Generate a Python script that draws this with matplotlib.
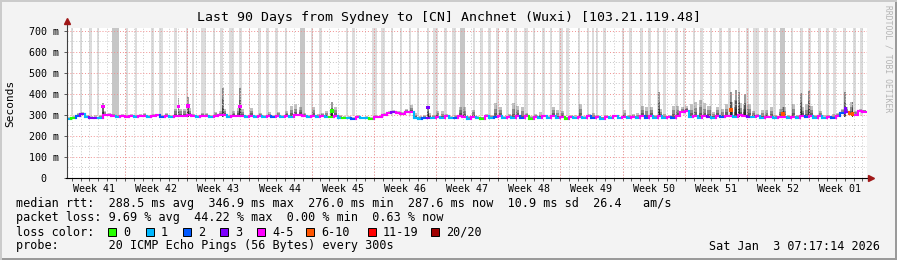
# SmokePing style latency chart, last 90 days Sydney -> Anchnet (Wuxi)
import numpy as np
import matplotlib
matplotlib.use("Agg")
import matplotlib.pyplot as plt
from matplotlib.collections import LineCollection
from matplotlib.patches import Rectangle

# median rtt (ms), one value per half day (180 slots over 90 days)
median_ms = [
    281, 284, 297, 305, 288, 285, 284, 287, 300, 298, 297, 291, 297, 289,
    297, 290, 297, 297, 290, 297, 298, 291, 297, 289, 297, 297, 297, 298,
    296, 289, 297, 297, 289, 296, 298, 300, 288, 297, 297, 296, 290, 297,
    290, 296, 289, 297, 290, 296, 288, 297, 291, 298, 300, 296, 289, 297,
    292, 297, 290, 292, 295, 285, 284, 287, 283, 290, 284, 286, 283, 289,
    290, 298, 308, 312, 310, 303, 315, 316, 286, 283, 285, 286, 286, 290,
    286, 293, 284, 286, 294, 290, 283, 292, 285, 283, 293, 285, 288, 294,
    284, 292, 284, 293, 285, 294, 283, 290, 286, 293, 284, 294, 285, 288,
    283, 292, 284, 291, 285, 293, 284, 292, 283, 292, 285, 293, 284, 290,
    285, 292, 284, 293, 286, 295, 284, 293, 286, 292, 287, 295, 312, 319,
    290, 295, 286, 293, 290, 285, 294, 290, 296, 293, 290, 300, 297, 292,
    288, 293, 285, 292, 290, 286, 291, 292, 286, 292, 285, 293, 288, 296,
    285, 293, 284, 290, 286, 295, 310, 312, 303, 300, 318, 316,
]
# loss class index per slot (0:"0" 1:"1" 2:"2" 3:"3" 4:"4-5" 5:"6-10" 6:"11-19" 7:"20/20")
loss_class = [
    1, 0, 2, 3, 1, 3, 3, 1, 4, 4, 4, 1, 4, 4,
    4, 1, 4, 4, 1, 4, 4, 2, 4, 1, 4, 4, 4, 4,
    4, 1, 4, 4, 1, 4, 4, 4, 1, 4, 4, 4, 1, 4,
    1, 4, 1, 4, 2, 4, 1, 4, 1, 4, 4, 4, 1, 4,
    1, 4, 1, 0, 4, 1, 0, 1, 2, 4, 1, 1, 0, 4,
    4, 4, 4, 3, 4, 4, 4, 4, 1, 1, 2, 3, 1, 4,
    1, 4, 1, 2, 4, 4, 1, 4, 1, 0, 4, 1, 2, 4,
    1, 4, 1, 4, 2, 4, 0, 4, 1, 4, 1, 4, 1, 4,
    0, 4, 1, 4, 1, 4, 2, 4, 1, 4, 1, 4, 1, 4,
    1, 4, 1, 4, 2, 4, 1, 4, 1, 4, 2, 4, 4, 4,
    1, 4, 1, 4, 3, 1, 4, 2, 4, 4, 1, 4, 4, 3,
    1, 4, 1, 4, 4, 1, 4, 4, 1, 4, 1, 4, 2, 4,
    1, 4, 1, 4, 2, 4, 2, 3, 5, 4, 4, 4,
]
# top of the smoke (slowest pings, ms) per slot
smoke_top_ms = [
    290, 295, 310, 315, 300, 295, 298, 300, 320, 310, 305, 300, 305, 300,
    305, 298, 305, 310, 300, 305, 305, 300, 310, 300, 330, 330, 330, 335,
    305, 298, 310, 310, 300, 315, 320, 330, 300, 320, 335, 330, 300, 333,
    300, 310, 300, 312, 300, 315, 300, 320, 345, 350, 340, 310, 300, 340,
    305, 310, 320, 330, 340, 300, 295, 295, 290, 300, 292, 295, 290, 298,
    300, 310, 318, 322, 320, 315, 330, 347, 310, 295, 300, 310, 300, 320,
    320, 305, 295, 300, 340, 338, 295, 325, 295, 292, 305, 300, 358, 340,
    295, 305, 355, 345, 340, 310, 295, 305, 313, 300, 295, 340, 325, 320,
    292, 300, 298, 350, 295, 305, 310, 300, 292, 298, 295, 300, 292, 325,
    300, 305, 310, 345, 340, 340, 300, 330, 305, 300, 345, 345, 340, 345,
    350, 360, 370, 355, 345, 315, 340, 330, 350, 360, 370, 355, 350, 350,
    320, 305, 325, 322, 340, 300, 330, 340, 300, 350, 300, 340, 350, 345,
    300, 320, 298, 300, 305, 310, 330, 340, 360, 320, 330, 325,
]

# narrow spikes: (day, slowest ping ms)
spike_day = [4.05, 12.55, 13.65, 17.55, 19.5, 29.8, 40.6, 66.6, 74.7, 75.3, 75.6,
             76.3, 80.6, 82.6, 83.5, 87.6, 88.4]
spike_top_ms = [358, 380, 387, 430, 427, 362, 335, 411, 411, 420, 411,
                400, 340, 405, 414, 411, 360]
# median values that jump out of the band: (day, ms, loss class)
dot_day = [4.05, 12.55, 13.65, 19.5, 29.8, 40.6, 74.7, 80.6, 87.6, 88.4]
dot_ms = [340, 340, 344, 340, 319, 335, 324, 305, 328, 305]
dot_class = [4, 4, 4, 4, 0, 3, 5, 5, 3, 5]

# full height smoke stripes (pings beyond the graph top), start/end in days
bar_start = [0.45, 1.41, 2.48, 3.32, 5.06, 6.64, 7.65, 9.45, 10.35, 12.04, 13.39, 14.07,
             15.08, 16.43, 17.22, 18.23, 19.36, 20.48, 21.49, 22.39, 23.41, 24.53, 26.22,
             27.46, 28.36, 31.37, 32.05, 34.32, 35.34, 36.46, 37.47, 38.49, 39.39, 40.51,
             41.19, 42.43, 43.33, 44.23, 45.69, 46.48, 47.38, 48.28, 49.40, 50.30, 51.43,
             52.44, 53.46, 54.36, 55.37, 56.16, 57.51, 58.52, 59.08, 59.53, 60.32, 62.46,
             63.25, 64.48, 65.38, 66.40, 67.07, 68.42, 69.32, 70.45, 71.24, 72.36, 73.37,
             74.39, 75.51, 76.41, 77.20, 78.44, 79.45, 80.24, 81.48, 82.49, 83.39, 84.52,
             85.42, 86.20, 87.33, 88.46, 89.24]
bar_end = [0.73, 1.69, 2.76, 3.60, 5.85, 6.92, 7.88, 9.79, 10.80, 12.38, 13.62, 14.29,
           15.64, 16.66, 17.56, 18.79, 19.69, 20.65, 21.78, 22.73, 23.74, 24.76, 26.79,
           27.68, 28.70, 31.60, 32.39, 34.89, 35.79, 36.69, 37.70, 38.71, 39.61, 40.74,
           41.75, 42.76, 43.78, 44.79, 45.91, 46.82, 47.72, 48.62, 49.74, 50.64, 51.88,
           52.67, 53.79, 54.58, 55.82, 56.49, 57.74, 58.75, 59.31, 59.76, 60.66, 62.69,
           63.59, 64.82, 65.72, 66.62, 67.41, 68.76, 69.55, 70.67, 71.57, 72.59, 73.71,
           74.72, 75.74, 76.75, 77.87, 78.89, 79.79, 80.80, 81.70, 82.83, 83.73, 84.85,
           85.76, 86.54, 87.67, 88.79, 89.58]
dark_bar_start = [5.06, 26.22, 44.23, 80.24]
dark_bar_end = [5.85, 26.79, 44.79, 80.80]

week_labels = ["Week 41", "Week 42", "Week 43", "Week 44", "Week 45", "Week 46", "Week 47",
               "Week 48", "Week 49", "Week 50", "Week 51", "Week 52", "Week 01"]
ytick_values = [0, 100, 200, 300, 400, 500, 600, 700]
ytick_labels = ["0  ", "100 m", "200 m", "300 m", "400 m", "500 m", "600 m", "700 m"]
loss_labels = ["0", "1", "2", "3", "4-5", "6-10", "11-19", "20/20"]
loss_colors = ["#26ff00", "#00b8ff", "#0059ff", "#7e00ff", "#ff00ff", "#ff5500", "#ff0000", "#a00000"]

title = "Last 90 Days from Sydney to [CN] Anchnet (Wuxi) [103.21.119.48]"
rtt_line = "median rtt:  288.5 ms avg  346.9 ms max  276.0 ms min  287.6 ms now  10.9 ms sd  26.4   am/s"
loss_line = "packet loss: 9.69 % avg  44.22 % max  0.00 % min  0.63 % now"
probe_line = "probe:       20 ICMP Echo Pings (56 Bytes) every 300s"
stamp = "Sat Jan  3 07:17:14 2026"

W, H = 897, 260
plt.rcParams["font.family"] = "DejaVu Sans Mono"

fig = plt.figure(figsize=(W / 100, H / 100), dpi=100, facecolor="#f3f3f3")
ax = fig.add_axes([67 / W, 82 / H, 800 / W, 150 / H])
ax.set_facecolor("white")
ymax = 714
ax.set_xlim(0, 90.03)
ax.set_ylim(0, ymax)

# stripes
ax.bar(bar_start, ymax - 295, width=np.subtract(bar_end, bar_start), bottom=295,
       align="edge", color="#dcdcdc", lw=0, zorder=1)
ax.bar(dark_bar_start, ymax - 295, width=np.subtract(dark_bar_end, dark_bar_start),
       bottom=295, align="edge", color="#c6c6c6", lw=0, zorder=1)

# smoke, drawn as narrow layered columns
days = np.arange(len(median_ms)) * 0.5
med = np.asarray(median_ms, float)
top = np.asarray(smoke_top_ms, float)
for frac, a in [(1.0, 0.3), (0.6, 0.35), (0.3, 0.45)]:
    ax.bar(days + 0.25, frac * (top - med), width=0.34, bottom=med,
           color="#303030", alpha=a, lw=0, zorder=2)
sp_top = np.asarray(spike_top_ms, float)
for frac, a in [(1.0, 0.45), (0.6, 0.4), (0.3, 0.5)]:
    ax.bar(spike_day, frac * (sp_top - 292), width=0.22, bottom=292,
           color="#202020", alpha=a, lw=0, zorder=2)

# grid
week0 = 6.52
for d in np.arange(week0 - 6, 90, 1.0):
    ax.axvline(d, color="#c8c8c8", lw=0.7, ls=(0, (1, 2)), zorder=3)
for v in range(50, 714, 100):
    ax.axhline(v, color="#c8c8c8", lw=0.7, ls=(0, (1, 2)), zorder=3)
for d in np.arange(week0, 90, 7.0):
    ax.axvline(d, color="#f09090", lw=0.7, ls=(0, (1, 2)), zorder=3)
for v in ytick_values[1:]:
    ax.axhline(v, color="#f09090", lw=0.7, ls=(0, (1, 2)), zorder=3)

# median line coloured by loss
segs, cols = [], []
for j in range(len(days)):
    c = loss_colors[loss_class[j]]
    if j > 0:
        segs.append([(days[j], median_ms[j - 1]), (days[j], median_ms[j])])
        cols.append(c)
    segs.append([(days[j], median_ms[j]), (days[j] + 0.5, median_ms[j])])
    cols.append(c)
ax.add_collection(LineCollection(segs, colors=cols, linewidths=1.5,
                                 capstyle="projecting", zorder=4))
ax.scatter(dot_day, dot_ms, s=7, marker="s", c=[loss_colors[k] for k in dot_class],
           lw=0, zorder=5)

# axes + arrows
for s in ["top", "right", "left", "bottom"]:
    ax.spines[s].set_visible(False)
ax.plot([0, 0], [0, 745], color="#404040", lw=0.8, clip_on=False, zorder=5)
ax.plot([-0.1, 90.3], [0, 0], color="black", lw=0.8, clip_on=False, zorder=5)
ax.plot([0], [748], marker="^", ms=4, color="#a01818", clip_on=False, zorder=6)
ax.plot([90.45], [0], marker=">", ms=4, color="#a01818", clip_on=False, zorder=6)

ax.set_yticks(ytick_values)
ax.set_yticklabels(ytick_labels, fontsize=7.2)
ax.set_xticks(np.arange(len(week_labels)) * 7.0 + week0 - 3.5)
ax.set_xticklabels(week_labels, fontsize=7.2)
ax.set_xticks(np.arange(week0 - 6, 90, 1.0), minor=True)
ax.tick_params(axis="x", which="major", length=0, pad=4)
ax.tick_params(axis="x", which="minor", length=2, width=0.6, color="#404040")
ax.tick_params(axis="y", which="major", length=2, width=0.6, pad=4, color="#404040")

def ftext(x, y, s, **kw):
    kw.setdefault("fontsize", 8.5)
    kw.setdefault("va", "center")
    return fig.text(x / W, 1 - y / H, s, **kw)

ftext(W / 2, 18, title, ha="center", fontsize=9.5)
ftext(10, 103, "Seconds", ha="center", rotation=90, fontsize=8)
ftext(888, 5, "RRDTOOL / TOBI OETIKER", ha="center", va="top", rotation=270,
      fontsize=5.8, color="#b4b4b4")

ftext(16, 204, rtt_line)
ftext(16, 218, loss_line)
ftext(16, 232, "loss color:")
ftext(16, 246, probe_line)
ftext(880, 246, stamp, ha="right")

box_x = [108, 146, 183, 220, 257, 306, 368, 431]
for bx, lab, col in zip(box_x, loss_labels, loss_colors):
    fig.add_artist(Rectangle((bx / W, 1 - 236 / H), 8 / W, 8 / H, transform=fig.transFigure,
                             facecolor=col, edgecolor="black", lw=0.7))
    ftext(bx + 15, 232, lab)

# 3d border like rrdtool
fig.add_artist(Rectangle((0, 0), 1, 2 / H, transform=fig.transFigure, color="#9a9a9a", lw=0))
fig.add_artist(Rectangle((1 - 2 / W, 0), 2 / W, 1, transform=fig.transFigure, color="#9a9a9a", lw=0))
fig.add_artist(Rectangle((0, 1 - 2 / H), 1, 2 / H, transform=fig.transFigure, color="#cbcbcb", lw=0))
fig.add_artist(Rectangle((0, 0), 2 / W, 1, transform=fig.transFigure, color="#cbcbcb", lw=0))

fig.savefig("out.png", dpi=100, facecolor=fig.get_facecolor())
